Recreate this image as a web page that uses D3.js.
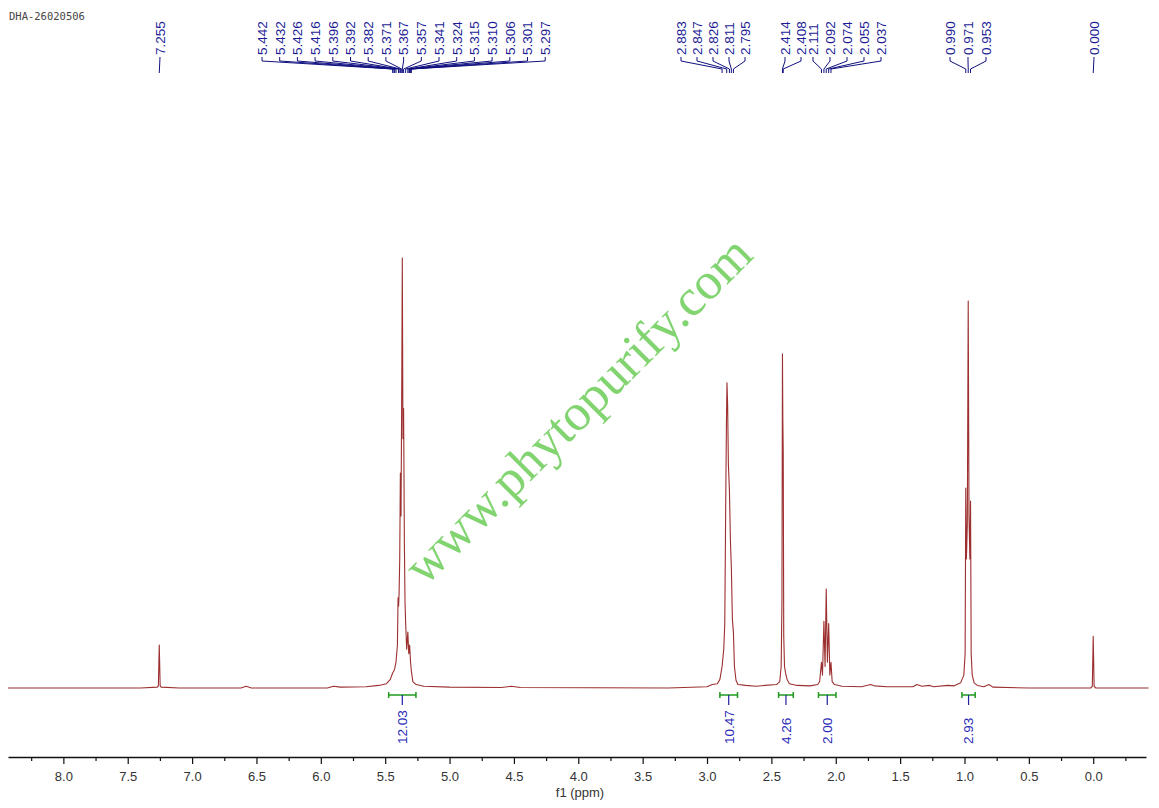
<!DOCTYPE html>
<html>
<head>
<meta charset="utf-8">
<script src="https://cdn.jsdelivr.net/npm/d3@7/dist/d3.min.js"></script>
<style>
  html, body { margin: 0; padding: 0; background: #fff; }
  svg { display: block; }
  text { font-family: "Liberation Sans", Arial, sans-serif; }
</style>
</head>
<body>
<svg id="chart" width="1159" height="808"></svg>
<script>
// spectrum vertices: [ppm, intensity (% of tallest)]
var spectrum = [
  [8.43,0],[7.40,0],[7.27,0.2],[7.262,0.5],[7.255,10],[7.248,0.5],[7.24,0.2],[7.10,0],
  [6.62,0],[6.58,0.4],[6.54,0],[5.95,0],[5.90,0.4],[5.85,0.2],[5.65,0.3],[5.55,0.6],
  [5.49,1.0],[5.46,2],[5.442,3.5],[5.432,4],[5.426,4.5],[5.416,6],[5.405,10],[5.400,21],
  [5.396,19],[5.392,22],[5.387,30],[5.382,50],[5.377,40],[5.371,72],[5.367,100],[5.362,58],
  [5.357,65],[5.351,34],[5.346,20],[5.341,15],[5.333,9],[5.324,13],[5.317,8],[5.310,10],
  [5.303,6],[5.297,4],[5.285,1.5],[5.26,0.8],[5.20,0.4],[5.0,0.2],[4.6,0.1],[4.52,0.4],
  [4.45,0.1],[3.3,0],[3.0,0.3],[2.96,0.8],[2.92,1],[2.90,2],[2.883,5],[2.870,9],[2.862,15],
  [2.855,42],[2.849,62],[2.845,71],[2.840,66],[2.834,52],[2.826,46],[2.818,34],[2.811,28],[2.803,16],
  [2.795,13],[2.787,5],[2.775,1.8],[2.76,0.8],[2.70,0.6],[2.62,0.4],[2.55,0.6],[2.46,0.8],
  [2.435,1.5],[2.424,5],[2.418,20],[2.414,77.7],[2.411,62],[2.408,55],[2.404,12],[2.398,5],
  [2.39,3.5],[2.378,2],[2.36,1],[2.30,0.6],[2.20,0.5],[2.14,0.8],[2.125,1.5],[2.111,6],
  [2.103,3],[2.092,15.5],[2.083,5],[2.074,23],[2.065,6],[2.055,15],[2.046,3],[2.037,6],
  [2.028,1.5],[2.01,0.8],[1.95,0.4],[1.80,0.3],[1.73,0.8],[1.70,0.5],[1.60,0.3],[1.40,0.3],
  [1.37,0.8],[1.33,0.4],[1.27,0.6],[1.24,0.3],[1.13,0.6],[1.08,0.5],[1.03,1.2],[1.005,3],
  [0.995,8],[0.990,46.5],[0.985,30],[0.978,38],[0.971,90],[0.965,40],[0.958,30],[0.953,43.5],
  [0.948,8],[0.94,3],[0.925,1.2],[0.90,0.6],[0.85,0.3],[0.81,0.8],[0.78,0.2],[0.5,0],
  [0.02,0],[0.007,0.4],[0.000,12],[-0.007,0.4],[-0.02,0],[-0.43,0]
];

// peak labels, grouped as the multiplet brackets are drawn
var peakGroups = [
  [7.255],
  [5.442,5.432,5.426,5.416,5.396,5.392,5.382,5.371,5.367,5.357,5.341,5.324,5.315,5.310,5.306,5.301,5.297],
  [2.883,2.847,2.826,2.811,2.795],
  [2.414,2.408,2.111,2.092,2.074,2.055,2.037],
  [0.990,0.971,0.953],
  [0.000]
];
// where each group's labels sit across the top (pixels)
var labelLayout = [
  [160],
  d3.range(17).map(function(i){ return 262 + i * 17.7; }),
  [681,697,713,729,745],
  [785,801,813,830,847,864,881],
  [950,968,986],
  [1094]
];

var integralFrom = [5.473, 2.900, 2.444, 2.134, 1.020];
var integralTo   = [5.261, 2.763, 2.330, 1.998, 0.917];
var integralVals = ["12.03", "10.47", "4.26", "2.00", "2.93"];

var majorTicks = [8.0,7.5,7.0,6.5,6.0,5.5,5.0,4.5,4.0,3.5,3.0,2.5,2.0,1.5,1.0,0.5,0.0];
var minorTicks = [8.25,7.75,7.25,6.75,6.25,5.75,5.25,4.75,4.25,3.75,3.25,2.75,2.25,1.75,1.25,0.75,0.25,-0.25];

var svg = d3.select('#chart'),
    x = d3.scaleLinear().domain([8.43, -0.41]).range([8, 1146]),
    y = d3.scaleLinear().domain([0, 100]).range([688, 258]),
    axisY = 757;

// sample name
svg.append('text')
  .attr('x', 9).attr('y', 20)
  .style('font-family', '"DejaVu Sans Mono", monospace')
  .style('font-size', '10.5px')
  .attr('fill', '#444')
  .text('DHA-26020506');

// watermark
svg.append('text')
  .attr('transform', 'translate(590,422) rotate(-45)')
  .attr('text-anchor', 'middle')
  .style('font-family', '"Liberation Serif", "Times New Roman", serif')
  .style('font-size', '52px')
  .attr('fill', '#74cf62')
  .attr('fill-opacity', 0.9)
  .text('www.phytopurify.com');

// spectrum
var line = d3.line()
  .x(function(d){ return x(d[0]); })
  .y(function(d){ return y(d[1]); });

svg.append('path')
  .datum(spectrum)
  .attr('d', line)
  .attr('fill', 'none')
  .attr('stroke', '#8b0a0a')
  .attr('stroke-opacity', 0.85)
  .attr('stroke-width', 1.1)
  .attr('stroke-linejoin', 'round');

// peak labels and their connectors
var gLab = svg.append('g');
peakGroups.forEach(function(group, gi){
  group.forEach(function(ppm, i){
    var lx = labelLayout[gi][i], px = x(ppm);
    var pts = group.length === 1 ?
      [[lx, 57], [px, 73]] :
      [[lx, 57], [lx, 61], [px, 69], [px, 73]];
    gLab.append('path')
      .attr('d', d3.line()(pts))
      .attr('fill', 'none')
      .attr('stroke', '#101080')
      .attr('stroke-width', 1);
    gLab.append('text')
      .attr('transform', 'translate(' + lx + ',55) rotate(-90)')
      .attr('dy', '0.36em')
      .style('font-size', '13.5px')
      .attr('fill', '#1c1c96')
      .text(ppm.toFixed(3));
  });
});

// integrals
var gInt = svg.append('g');
integralVals.forEach(function(v, i){
  var x0 = x(integralFrom[i]), x1 = x(integralTo[i]), xc = (x0 + x1) / 2;
  gInt.append('path')
    .attr('d', 'M' + x0 + ',695H' + x1 + 'M' + x0 + ',692V698M' + x1 + ',692V698')
    .attr('stroke', '#1f9a1f').attr('stroke-width', 1.5).attr('fill', 'none');
  gInt.append('line')
    .attr('x1', xc).attr('x2', xc).attr('y1', 695).attr('y2', 705)
    .attr('stroke', '#2020a0').attr('stroke-width', 1.2);
  gInt.append('text')
    .attr('transform', 'translate(' + xc + ',744) rotate(-90)')
    .attr('dy', '0.36em')
    .style('font-size', '13.5px')
    .attr('fill', '#2a2ab8')
    .text(v);
});

// x axis
var axis = svg.append('g').attr('transform', 'translate(0,' + axisY + ')');
axis.call(d3.axisBottom(x)
    .tickValues(majorTicks)
    .tickFormat(d3.format('.1f'))
    .tickSize(7)
    .tickSizeOuter(0)
    .tickPadding(8));
axis.append('g').call(d3.axisBottom(x)
    .tickValues(minorTicks)
    .tickFormat('')
    .tickSize(4)
    .tickSizeOuter(0))
  .select('.domain').remove();
axis.selectAll('.domain').attr('stroke', '#111').attr('stroke-width', 1.5);
axis.selectAll('.tick line').attr('stroke', '#111').attr('stroke-width', 1.2);
axis.selectAll('.tick text')
  .style('font-size', '13px')
  .style('font-family', '"Liberation Sans", Arial, sans-serif')
  .attr('fill', '#333');

svg.append('text')
  .attr('x', 580).attr('y', 797)
  .attr('text-anchor', 'middle')
  .style('font-size', '13px')
  .attr('fill', '#333')
  .text('f1 (ppm)');
</script>
</body>
</html>
